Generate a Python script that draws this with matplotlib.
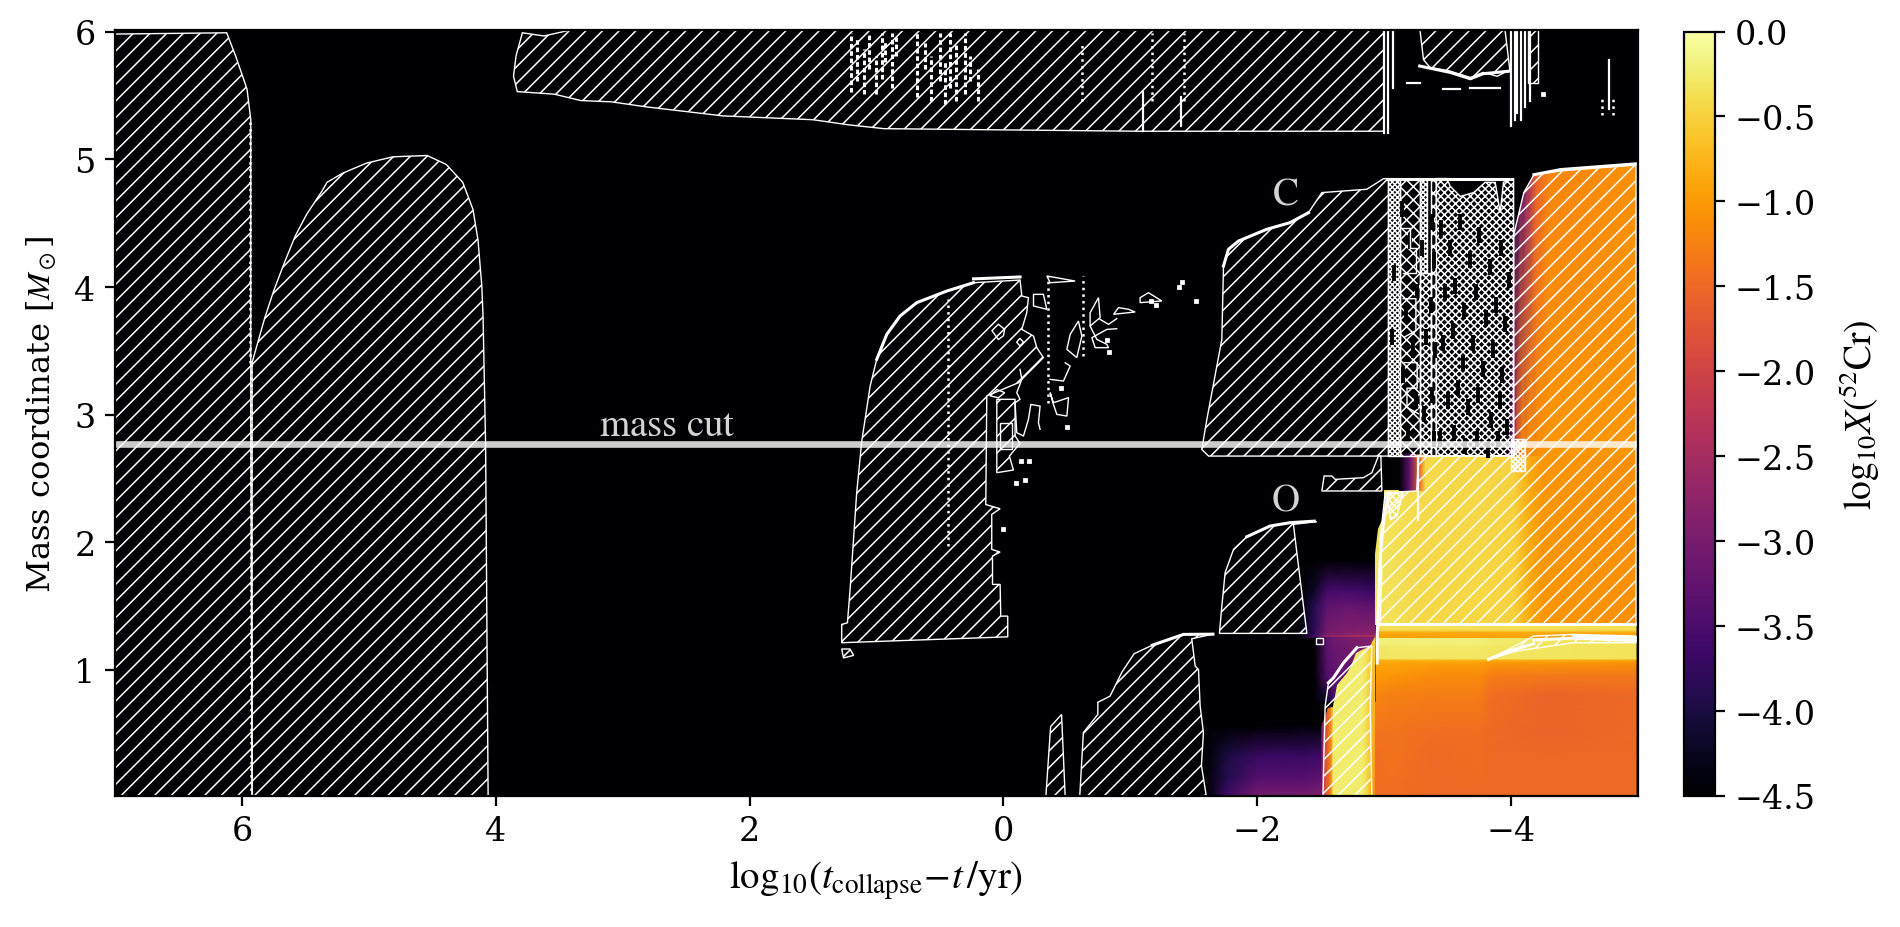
import numpy as np
import matplotlib
matplotlib.use('Agg')
import matplotlib.pyplot as plt
from matplotlib.patches import Polygon

plt.rcParams['font.family'] = 'DejaVu Serif'
plt.rcParams['mathtext.fontset'] = 'stix'
plt.rcParams['hatch.linewidth'] = 0.55
plt.rcParams['font.size'] = 12

VMIN, VMAX = -4.5, 0.0
Y_FIX = 1.0022  # small stretch, the arrays were read against a slightly shorter axis

# abundance blocks: x nodes, y nodes, log10 X at the nodes
upper_x = [-2.93, -3.0, -3.3, -3.8, -4.02, -4.15, -4.25, -4.985]
upper_y = [1.35, 2.68]
upper_v = [[-0.3, -0.35, -0.45, -0.45, -0.5, -0.85, -1.05, -1.1],
           [-0.3, -0.35, -0.42, -0.45, -0.5, -0.85, -1.05, -1.1]]
upper_clip = [(-2.93, 1.35), (-2.93, 1.9), (-2.95, 2.1), (-3.0, 2.2), (-3.0, 2.4), (-3.3, 2.4),
              (-3.3, 2.68), (-4.985, 2.68), (-4.985, 1.35)]

gap_x = [-3.12, -3.2, -3.28, -3.32]
gap_y = [2.4, 2.68]
gap_v = [[-4.5, -3.3, -1.5, -0.5], [-4.5, -3.3, -1.5, -0.5]]

top_x = [-3.97, -4.0, -4.03, -4.07, -4.12, -4.2, -4.3, -4.985]
top_y = [2.67, 4.96]
top_v = [[-4.5, -3.5, -2.2, -1.3, -1.15, -1.1, -1.05, -1.05],
         [-4.5, -4.5, -4.0, -3.4, -2.8, -1.6, -1.2, -1.1]]
top_clip = [(-3.97, 2.67), (-4.02, 4.4), (-4.05, 4.52), (-4.1, 4.73), (-4.18, 4.87), (-4.39, 4.90),
            (-4.985, 4.95), (-4.985, 2.67)]

band_x = [-2.95, -4.985]
band_y = [1.25, 1.29, 1.31, 1.35]
band_v = [[-0.95, -0.95], [-0.85, -0.85], [-0.4, -0.4], [-0.35, -0.35]]

core_x = [-2.93, -3.05, -3.4, -3.75, -3.85, -4.3, -4.985]
core_y = [0.0, 0.3, 0.5, 0.8, 0.95, 1.05, 1.075, 1.085, 1.18, 1.2, 1.25]
core_v = [[-1.45, -1.45, -1.5, -1.5, -1.5, -1.5, -1.5],
          [-1.45, -1.4, -1.5, -1.45, -1.5, -1.5, -1.5],
          [-1.4, -1.4, -1.45, -1.45, -1.5, -1.55, -1.5],
          [-1.2, -1.25, -1.3, -1.3, -1.45, -1.55, -1.5],
          [-1.0, -1.05, -1.15, -1.15, -1.3, -1.35, -1.35],
          [-0.9, -0.9, -0.95, -0.95, -1.05, -1.05, -1.1],
          [-0.8, -0.75, -0.75, -0.75, -0.8, -0.8, -0.85],
          [-0.3, -0.3, -0.3, -0.3, -0.3, -0.3, -0.35],
          [-0.3, -0.28, -0.28, -0.28, -0.3, -0.3, -0.35],
          [-0.2, -0.2, -0.2, -0.2, -0.25, -0.3, -0.3],
          [-0.2, -0.2, -0.2, -0.2, -0.25, -0.3, -0.3]]

ycol_x = [-2.5, -2.53, -2.58, -2.6, -2.83, -2.87, -2.91, -2.93]
ycol_y = [0.0, 1.25]
ycol_v = [[-3.5, -2.0, -1.2, -0.25, -0.25, -0.5, -1.0, -1.2],
          [-3.5, -2.0, -1.2, -0.25, -0.25, -0.4, -0.5, -0.5]]
ycol_clip = [(-2.5, 0.0), (-2.5, 0.55), (-2.56, 0.7), (-2.6, 0.71), (-2.63, 0.88), (-2.71, 0.97),
             (-2.74, 1.03), (-2.78, 1.13), (-2.89, 1.18), (-2.93, 1.25), (-2.93, 0.0)]

purple_x = [-2.45, -2.55, -2.6, -2.93]
purple_y = [0.75, 0.95, 1.25]
purple_v = [[-4.5, -4.2, -3.6, -3.4], [-4.5, -3.4, -3.3, -3.2], [-4.5, -3.3, -3.1, -2.8]]

patch_x = [-2.35, -2.45, -2.55, -2.7, -2.93]
patch_y = [1.25, 1.28, 1.5, 1.62, 1.85]
patch_v = [[-4.2, -3.5, -2.6, -2.4, -2.2],
           [-4.3, -3.8, -3.0, -2.9, -2.8],
           [-4.4, -3.9, -3.3, -3.2, -3.3],
           [-4.5, -4.2, -3.6, -3.6, -3.7],
           [-4.5, -4.5, -4.5, -4.5, -4.5]]

low_x = [-1.6, -1.76, -2.0, -2.35, -2.52]
low_y = [0.0, 0.15, 0.32, 0.55]
low_v = [[-4.5, -3.6, -3.0, -3.0, -2.9],
         [-4.5, -3.9, -3.4, -3.4, -3.3],
         [-4.5, -4.0, -3.7, -3.7, -3.6],
         [-4.5, -4.5, -4.45, -4.4, -4.4]]

# convective zones, hatched
envelope = [(7.0, 5.97), (6.12, 5.98), (6.05, 5.8), (5.96, 5.54), (5.93, 5.3), (5.93, 3.0), (5.92, 0.0), (7.0, 0.0)]
he_shell = [(5.92, 3.4), (5.82, 3.75), (5.75, 3.96), (5.67, 4.17), (5.58, 4.39), (5.49, 4.56), (5.37, 4.74),
            (5.33, 4.81), (5.21, 4.88), (5.02, 4.96), (4.81, 5.01), (4.54, 5.02), (4.39, 4.95), (4.26, 4.81),
            (4.18, 4.60), (4.14, 4.36), (4.11, 4.0), (4.10, 3.76), (4.08, 2.76), (4.06, 0.0), (5.92, 0.0)]
top_shell = [(3.79, 5.98), (3.84, 5.80), (3.86, 5.64), (3.83, 5.52), (3.54, 5.50), (3.33, 5.45), (3.09, 5.44),
             (2.81, 5.40), (2.21, 5.33), (1.50, 5.30), (1.22, 5.26), (0.94, 5.23), (-1.06, 5.21), (-3.0, 5.21),
             (-3.0, 6.02), (3.33, 6.02), (3.62, 5.955)]
top_right_a = [(-3.28, 6.02), (-3.31, 5.77), (-3.36, 5.71), (-3.52, 5.68), (-3.68, 5.63), (-3.78, 5.67),
               (-3.89, 5.64), (-3.99, 5.69), (-3.95, 6.02)]
top_right_b = [(-4.13, 6.02), (-4.21, 6.02), (-4.21, 5.59), (-4.13, 5.59)]
c_core = [(1.274, 1.209), (1.274, 1.352), (1.229, 1.365), (1.208, 1.626), (1.156, 2.382), (1.116, 2.787),
          (1.09, 2.956), (1.05, 3.217), (0.998, 3.426), (0.919, 3.621), (0.814, 3.765), (0.683, 3.869),
          (0.446, 3.960), (0.236, 4.025), (-0.131, 4.046), (-0.145, 3.921), (-0.197, 3.908), (-0.184, 3.791),
          (-0.145, 3.66), (-0.237, 3.608), (-0.263, 3.517), (-0.315, 3.439), (-0.119, 3.243), (0.131, 3.139),
          (0.139, 2.29), (0.026, 2.257), (0.092, 2.213), (0.092, 1.939), (0.026, 1.918), (0.086, 1.887),
          (0.086, 1.665), (0.026, 1.665), (0.021, 1.417), (-0.034, 1.417), (-0.034, 1.255)]
c_core_tail = [(1.274, 1.16), (1.21, 1.16), (1.18, 1.11), (1.26, 1.09)]
c_piece = [(0.052, 2.539), (-0.079, 2.560), (-0.047, 2.669), (-0.131, 2.768), (-0.092, 2.826), (-0.092, 3.113),
           (0.052, 3.113)]
c_shell = [(-1.563, 2.721), (-1.616, 2.669), (-3.034, 2.669), (-3.034, 4.839), (-2.995, 4.839), (-2.863, 4.756),
           (-2.509, 4.73), (-2.404, 4.573), (-2.259, 4.495), (-2.075, 4.443), (-1.852, 4.351), (-1.773, 4.286),
           (-1.734, 4.156), (-1.721, 3.582), (-1.603, 2.956)]
o_shell = [(-1.702, 1.282), (-1.721, 1.496), (-1.747, 1.757), (-1.813, 1.939), (-1.918, 2.038), (-2.102, 2.122),
           (-2.259, 2.148), (-2.469, 2.156), (-2.285, 2.135), (-2.312, 1.913), (-2.391, 1.282)]
low_shell = [(-0.601, 0.0), (-0.63, 0.506), (-0.744, 0.648), (-0.744, 0.743), (-0.84, 0.791), (-0.935, 0.981),
             (-1.03, 1.123), (-1.174, 1.19), (-1.419, 1.274), (-1.651, 1.276), (-1.484, 1.24), (-1.511, 1.026),
             (-1.537, 1.0), (-1.55, 0.713), (-1.576, 0.505), (-1.56, 0.25), (-1.6, 0.0)]
low_spike = [(-0.334, 0.0), (-0.372, 0.553), (-0.458, 0.648), (-0.487, 0.0)]
box_shell = [(-2.509, 2.396), (-2.527, 2.513), (-2.588, 2.513), (-2.614, 2.487), (-2.837, 2.5), (-2.903, 2.539),
             (-2.955, 2.67), (-2.974, 2.67), (-2.982, 2.396)]
si_shell = [(-2.968, 1.352), (-2.98, 1.757), (-2.968, 2.018), (-3.008, 2.383), (-3.257, 2.396), (-3.27, 2.67),
            (-4.02, 2.67), (-4.02, 4.4), (-4.05, 4.52), (-4.1, 4.73), (-4.18, 4.87), (-4.39, 4.90), (-4.985, 4.946),
            (-4.985, 1.352)]
si_core = [(-2.517, 0.0), (-2.535, 0.713), (-2.561, 0.896), (-2.601, 0.935), (-2.68, 1.052), (-2.785, 1.17),
           (-2.903, 1.183), (-2.89, 0.713), (-2.903, 0.0)]
fe_sliver = [(-3.822, 1.079), (-4.006, 1.17), (-4.177, 1.261), (-4.492, 1.274), (-4.985, 1.261), (-4.985, 1.209),
             (-4.492, 1.209), (-4.045, 1.144)]
hatched_zones = [envelope, he_shell, top_shell, top_right_a, top_right_b, c_core, c_core_tail, c_piece, c_shell,
                 o_shell, low_shell, low_spike, box_shell, si_shell, si_core, fe_sliver]

# holes and loose contour pieces in the carbon core
loose_closed = [[(0.09, 3.65), (0.04, 3.70), (-0.01, 3.66), (0.0, 3.61), (0.04, 3.58)],
                [(-0.105, 3.56), (-0.13, 3.59), (-0.158, 3.56), (-0.13, 3.53)],
                [(0.105, 3.14), (0.052, 3.19), (-0.01, 3.165), (0.04, 3.125)],
                [(0.026, 2.93), (-0.066, 2.93), (-0.066, 2.721), (0.026, 2.721)],
                [(-0.237, 3.934), (-0.315, 3.934), (-0.342, 3.817), (-0.237, 3.843)],
                [(-0.342, 4.078), (-0.565, 4.038), (-0.368, 4.025)],
                [(-0.526, 3.621), (-0.591, 3.725), (-0.618, 3.608), (-0.578, 3.439), (-0.5, 3.504)],
                [(-0.749, 3.908), (-0.762, 3.752), (-0.683, 3.686), (-0.683, 3.79)],
                [(-0.868, 3.778), (-0.907, 3.83), (-0.986, 3.817), (-1.038, 3.796)],
                [(-1.077, 3.908), (-1.077, 3.869), (-1.248, 3.882), (-1.143, 3.947)],
                [(-0.368, 3.165), (-0.394, 3.086), (-0.513, 3.126), (-0.5, 2.982), (-0.421, 2.995), (-0.394, 3.073)],
                [(-2.46, 1.247), (-2.52, 1.247), (-2.52, 1.2), (-2.46, 1.2)]]
loose_open = [[(-0.131, 3.347), (-0.145, 3.269), (-0.105, 3.165), (-0.131, 3.113), (-0.092, 3.086), (-0.105, 2.852),
               (-0.158, 2.826), (-0.197, 2.956), (-0.216, 3.073), (-0.289, 3.06), (-0.276, 2.93), (-0.289, 2.878)],
              [(-0.368, 3.269), (-0.473, 3.256), (-0.526, 3.373), (-0.487, 3.399)],
              [(-0.683, 3.686), (-0.736, 3.582), (-0.815, 3.543), (-0.828, 3.517), (-0.723, 3.517), (-0.697, 3.595),
               (-0.815, 3.66), (-0.893, 3.665)],
              [(-0.762, 3.738), (-0.828, 3.699), (-0.893, 3.744)],
              [(-3.14, 4.45), (-3.2, 4.45), (-3.2, 4.3), (-3.25, 4.3), (-3.25, 4.1), (-3.15, 4.1)],
              [(-3.15, 3.9), (-3.25, 3.9), (-3.25, 3.65), (-3.16, 3.6)],
              [(-3.16, 3.4), (-3.26, 3.4), (-3.26, 3.2), (-3.18, 3.2), (-3.18, 3.05), (-3.27, 3.0)]]

# bright, thick parts of the contours
thick_lines = [[(0.998, 3.426), (0.919, 3.621), (0.814, 3.765), (0.683, 3.869), (0.446, 3.960), (0.236, 4.025)],
               [(0.236, 4.055), (-0.131, 4.07)],
               [(-1.734, 4.156), (-1.773, 4.286), (-1.852, 4.351), (-2.075, 4.443), (-2.259, 4.495), (-2.404, 4.573)],
               [(-1.918, 2.038), (-2.102, 2.122), (-2.259, 2.148), (-2.45, 2.16)],
               [(-1.174, 1.19), (-1.419, 1.274), (-1.651, 1.276)],
               [(-2.561, 0.896), (-2.601, 0.935), (-2.68, 1.052), (-2.785, 1.17)],
               [(-4.492, 1.26), (-4.985, 1.25)],
               [(-4.177, 1.23), (-4.492, 1.245), (-4.985, 1.225)],
               [(-3.822, 1.079), (-4.006, 1.15), (-4.177, 1.2)],
               [(-4.18, 4.87), (-4.39, 4.91), (-4.985, 4.955)],
               [(-3.03, 4.84), (-4.0, 4.84)],
               [(-3.28, 5.72), (-3.52, 5.67), (-3.68, 5.62), (-3.78, 5.66), (-3.99, 5.68)],
               [(-2.97, 1.352), (-4.985, 1.352)],
               [(-3.04, 2.38), (-3.0, 2.2), (-2.97, 1.9), (-2.945, 1.25), (-2.945, 1.05)]]
bar_lines = [[(-3.0, 5.2), (-3.0, 6.0)], [(-3.03, 5.2), (-3.03, 6.0)], [(-3.07, 5.55), (-3.07, 6.0)],
             [(-4.0, 5.25), (-4.0, 6.0)], [(-4.03, 5.3), (-4.03, 6.0)], [(-4.05, 5.35), (-4.05, 6.0)],
             [(-4.08, 5.3), (-4.08, 6.0)], [(-4.11, 5.4), (-4.11, 6.0)], [(-4.15, 5.45), (-4.15, 6.0)],
             [(-4.77, 5.38), (-4.77, 5.77)], [(-3.18, 5.59), (-3.28, 5.59)], [(-3.46, 5.54), (-3.6, 5.54)],
             [(-3.68, 5.55), (-3.91, 5.55)], [(-1.1, 5.21), (-1.1, 5.52)], [(-1.4, 5.25), (-1.4, 5.48)],
             [(-3.27, 2.17), (-3.27, 2.67)]]
dotted_lines = [[(0.433, 1.965), (0.433, 3.895)], [(-0.355, 3.086), (-0.355, 4.078)], [(-0.63, 3.45), (-0.63, 4.078)],
                [(5.93, 0.0), (5.93, 3.4)], [(5.94, 3.4), (5.94, 5.3)], [(-0.62, 5.45), (-0.62, 5.9)],
                [(-1.17, 5.45), (-1.17, 5.98)], [(-1.42, 5.45), (-1.42, 5.98)], [(-4.72, 5.34), (-4.72, 5.48)],
                [(-4.8, 5.34), (-4.8, 5.48)]]
speck_x = [-1.38, -1.16, -1.41, -1.52, 0.0, -0.1, -0.17, -0.82, -0.83, -1.2, -4.25, -0.14, -0.2, -0.45, -0.5]
speck_y = [3.99, 3.88, 4.03, 3.88, 2.1, 2.46, 2.48, 3.58, 3.48, 3.85, 5.5, 2.63, 2.63, 3.2, 2.9]

# vertical streaks of specks in the top shell: x, lower y, upper y
streak_x = [1.2, 1.15, 1.1, 1.06, 1.0, 0.96, 0.93, 0.88, 0.85, 0.68, 0.62, 0.57, 0.5, 0.46, 0.42, 0.37, 0.3, 0.26, 0.2]
streak_lo = [5.52, 5.6, 5.5, 5.7, 5.5, 5.62, 5.75, 5.55, 5.8, 5.48, 5.7, 5.45, 5.6, 5.42, 5.55, 5.45, 5.5, 5.6, 5.45]
streak_hi = [5.98, 5.95, 5.85, 5.98, 5.8, 5.98, 5.92, 5.98, 5.95, 5.98, 5.9, 5.8, 5.98, 5.75, 5.98, 5.9, 5.98, 5.8, 5.7]

# the noisy burning stages: zone outline and hatch density
noise_solid = [[(-3.034, 2.67), (-3.034, 4.84), (-3.125, 4.84), (-3.125, 2.67)],
               [(-3.28, 4.1), (-3.28, 4.84), (-3.34, 4.84), (-3.34, 4.1)],
               [(-4.0, 2.55), (-4.0, 2.8), (-4.11, 2.8), (-4.11, 2.55)]]
noise_dense = [[(-3.28, 2.67), (-3.28, 4.1), (-3.37, 4.1), (-3.37, 2.67)],
               [(-3.41, 2.67), (-3.41, 4.84), (-3.494, 4.84), (-3.52, 4.78), (-3.6, 4.70), (-3.704, 4.73),
                (-3.796, 4.81), (-3.875, 4.81), (-3.914, 4.573), (-3.94, 4.81), (-4.02, 4.84), (-4.02, 2.67)],
               [(-3.05, 2.17), (-3.02, 2.38), (-3.15, 2.38), (-3.1, 2.2)]]
noise_sparse = [[(-3.125, 2.67), (-3.125, 4.84), (-3.28, 4.84), (-3.28, 2.67)],
                [(-3.37, 2.67), (-3.37, 4.84), (-3.41, 4.84), (-3.41, 2.67)]]
# dark gaps left in the white noise
gap_spot_x = [-3.14, -3.2, -3.26, -3.17, -3.23, -3.15, -3.25, -3.19, -3.38, -3.39, -3.37, -3.4, -3.38, -3.39,
              -3.45, -3.52, -3.6, -3.68, -3.75, -3.83, -3.92, -3.98, -3.48, -3.56, -3.63, -3.72, -3.8, -3.88, -3.95,
              -3.46, -3.54, -3.62, -3.7, -3.78, -3.86, -3.93, -3.5, -3.58, -3.66, -3.74, -3.84, -3.91, -3.97,
              -3.44, -3.55, -3.64, -3.73, -3.82, -3.9, -3.08, -3.06, -3.3, -3.33, -3.31]
gap_spot_y = [4.6, 4.35, 3.95, 3.8, 3.5, 3.3, 3.1, 2.85, 4.5, 4.2, 3.85, 3.5, 3.15, 2.8,
              4.45, 4.3, 4.5, 4.2, 4.4, 4.15, 4.3, 4.05, 3.95, 4.0, 3.8, 3.95, 3.75, 3.85, 3.7,
              3.55, 3.65, 3.4, 3.55, 3.35, 3.5, 3.3, 3.1, 3.2, 3.05, 3.15, 2.95, 3.1, 2.9,
              2.8, 2.85, 2.75, 2.8, 2.72, 2.8, 4.1, 3.6, 4.3, 3.6, 3.0]

mass_cut = 2.76
x_ticks = [6, 4, 2, 0, -2, -4]
y_ticks = [1, 2, 3, 4, 5, 6]
cbar_ticks = [0.0, -0.5, -1.0, -1.5, -2.0, -2.5, -3.0, -3.5, -4.0, -4.5]

fig = plt.figure(figsize=(9.5, 4.64), dpi=200)
ax = fig.add_axes([115 / 1900, 1 - 797 / 928, (1638 - 115) / 1900, (797 - 31) / 928])
cax = fig.add_axes([1684 / 1900, 1 - 797 / 928, 31 / 1900, (797 - 32.5) / 928])
ax.set_facecolor(plt.cm.inferno(0))


def fix(points):
    return [(x, y * Y_FIX) for x, y in points]


def draw_block(xs, ys, vals, clip=None):
    mesh = ax.pcolormesh(xs, np.array(ys) * Y_FIX, np.array(vals), shading='gouraud', cmap='inferno',
                         vmin=VMIN, vmax=VMAX)
    if clip is not None:
        mesh.set_clip_path(Polygon(fix(clip), transform=ax.transData))
    return mesh


mesh = draw_block(core_x, core_y, core_v)
draw_block(low_x, low_y, low_v)
draw_block(patch_x, patch_y, patch_v)
draw_block(purple_x, purple_y, purple_v)
draw_block(ycol_x, ycol_y, ycol_v, ycol_clip)
draw_block(upper_x, upper_y, upper_v, upper_clip)
draw_block(gap_x, gap_y, gap_v)
draw_block(top_x, top_y, top_v, top_clip)
draw_block(band_x, band_y, band_v)

for zone in hatched_zones:
    ax.add_patch(Polygon(fix(zone), closed=True, fill=False, edgecolor='white', hatch='////', lw=0.5))
for zone in noise_solid:
    ax.add_patch(Polygon(fix(zone), closed=True, fill=False, edgecolor='white', hatch='x' * 13, lw=0.5))
for zone in noise_dense:
    ax.add_patch(Polygon(fix(zone), closed=True, fill=False, edgecolor='white', hatch='x' * 9, lw=0.5))
for zone in noise_sparse:
    ax.add_patch(Polygon(fix(zone), closed=True, fill=False, edgecolor='white', hatch='x' * 5, lw=0.5))
ax.plot(gap_spot_x, np.array(gap_spot_y) * Y_FIX, ls='none', marker='|', ms=6, mew=1.4, color='black')
for piece in loose_closed:
    ax.add_patch(Polygon(fix(piece), closed=True, fill=False, edgecolor='white', lw=0.5))
for piece in loose_open:
    ax.plot(*zip(*fix(piece)), color='white', lw=0.5)
for piece in thick_lines:
    ax.plot(*zip(*fix(piece)), color='white', lw=1.1)
for piece in bar_lines:
    ax.plot(*zip(*fix(piece)), color='white', lw=0.8)
for piece in dotted_lines:
    ax.plot(*zip(*fix(piece)), color='white', lw=0.9, ls=':')
ax.vlines(streak_x, np.array(streak_lo) * Y_FIX, np.array(streak_hi) * Y_FIX, color='white', lw=1.1,
          linestyles=(0, (1.5, 0.9)))
ax.plot(speck_x, np.array(speck_y) * Y_FIX, ls='none', marker='s', ms=0.8, color='white')

ax.axhline(mass_cut * Y_FIX, color='white', alpha=0.8, lw=2.4)
ax.text(2.65, 2.92, r'$\mathrm{mass\ cut}$', color='lightgray', fontsize=14, ha='center', va='center')
ax.text(-2.22, 4.74, r'$\mathrm{C}$', color='lightgray', fontsize=14, ha='center', va='center')
ax.text(-2.22, 2.34, r'$\mathrm{O}$', color='lightgray', fontsize=14, ha='center', va='center')

ax.set_xlim(7, -5)
ax.set_ylim(0.01, 6.015)
ax.set_xticks(x_ticks)
ax.set_yticks(y_ticks)
ax.set_xlabel(r'$\mathrm{log}_{10}(t_{\rm collapse}\!-\!t\,/{\rm yr})$', fontsize=14)
ax.set_ylabel(r'Mass coordinate [$M_\odot$]', fontsize=11.6, labelpad=5.5)

cbar = fig.colorbar(mesh, cax=cax)
cbar.set_ticks(cbar_ticks)
cbar.set_label(r'$\mathrm{log}_{10}X(^{52}{\rm Cr})$', fontsize=13.5, labelpad=7.5)

fig.savefig('out.png', dpi=200)
